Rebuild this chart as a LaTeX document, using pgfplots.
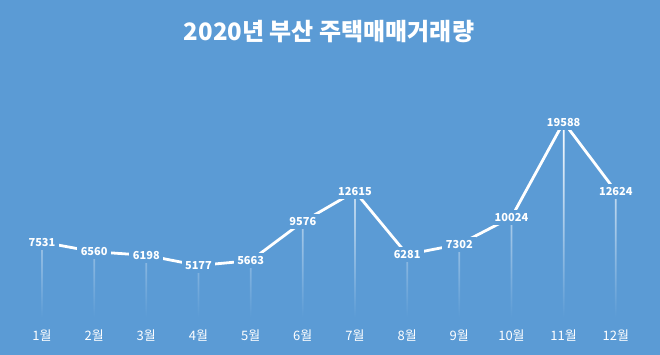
\documentclass[border=0pt]{standalone}
\usepackage{fontspec}
\setmainfont{Noto Sans CJK KR}
\usepackage{pgfplots}
\pgfplotsset{compat=1.18}
\definecolor{bg}{RGB}{91,155,213}
\begin{document}
\begin{tikzpicture}[x=1pt,y=1pt]
\fill[bg] (0,0) rectangle (660,355);
\node[text=white,font=\bfseries\fontsize{24}{28}\selectfont] at (329,323) {2020년 부산 주택매매거래량};
\begin{axis}[at={(15.9pt,38pt)}, anchor=south west, scale only axis,
  width=626pt, height=218.9pt, xmin=0.5, xmax=12.5, ymin=0, ymax=22000,
  axis line style={draw=none}, tick style={draw=none}, ytick=\empty,
  xtick={1,...,12},
  xticklabels={1월,2월,3월,4월,5월,6월,7월,8월,9월,10월,11월,12월},
  xticklabel style={text=white, font=\fontsize{13}{15}\selectfont, yshift=-9pt},
  clip=false]
\addplot[ybar, bar width=1.8pt, draw=none, top color=white, middle color=white!90!bg, bottom color=bg]
 coordinates {(1,7531) (2,6560) (3,6198) (4,5177) (5,5663) (6,9576) (7,12615) (8,6281) (9,7302) (10,10024) (11,19588) (12,12624)};
\addplot[white, line width=2.8pt, line join=round, mark=none,
  nodes near coords={\pgfmathprintnumber[assume math mode=true,1000 sep={},fixed,precision=0]{\pgfplotspointmeta}},
  every node near coord/.append style={anchor=center, fill=bg, text=white, font=\bfseries\fontsize{11}{13}\selectfont, inner xsep=3.5pt, inner ysep=3.5pt}]
 coordinates {(1,7531) (2,6560) (3,6198) (4,5177) (5,5663) (6,9576) (7,12615) (8,6281) (9,7302) (10,10024) (11,19588) (12,12624)};
\end{axis}
\end{tikzpicture}
\end{document}
